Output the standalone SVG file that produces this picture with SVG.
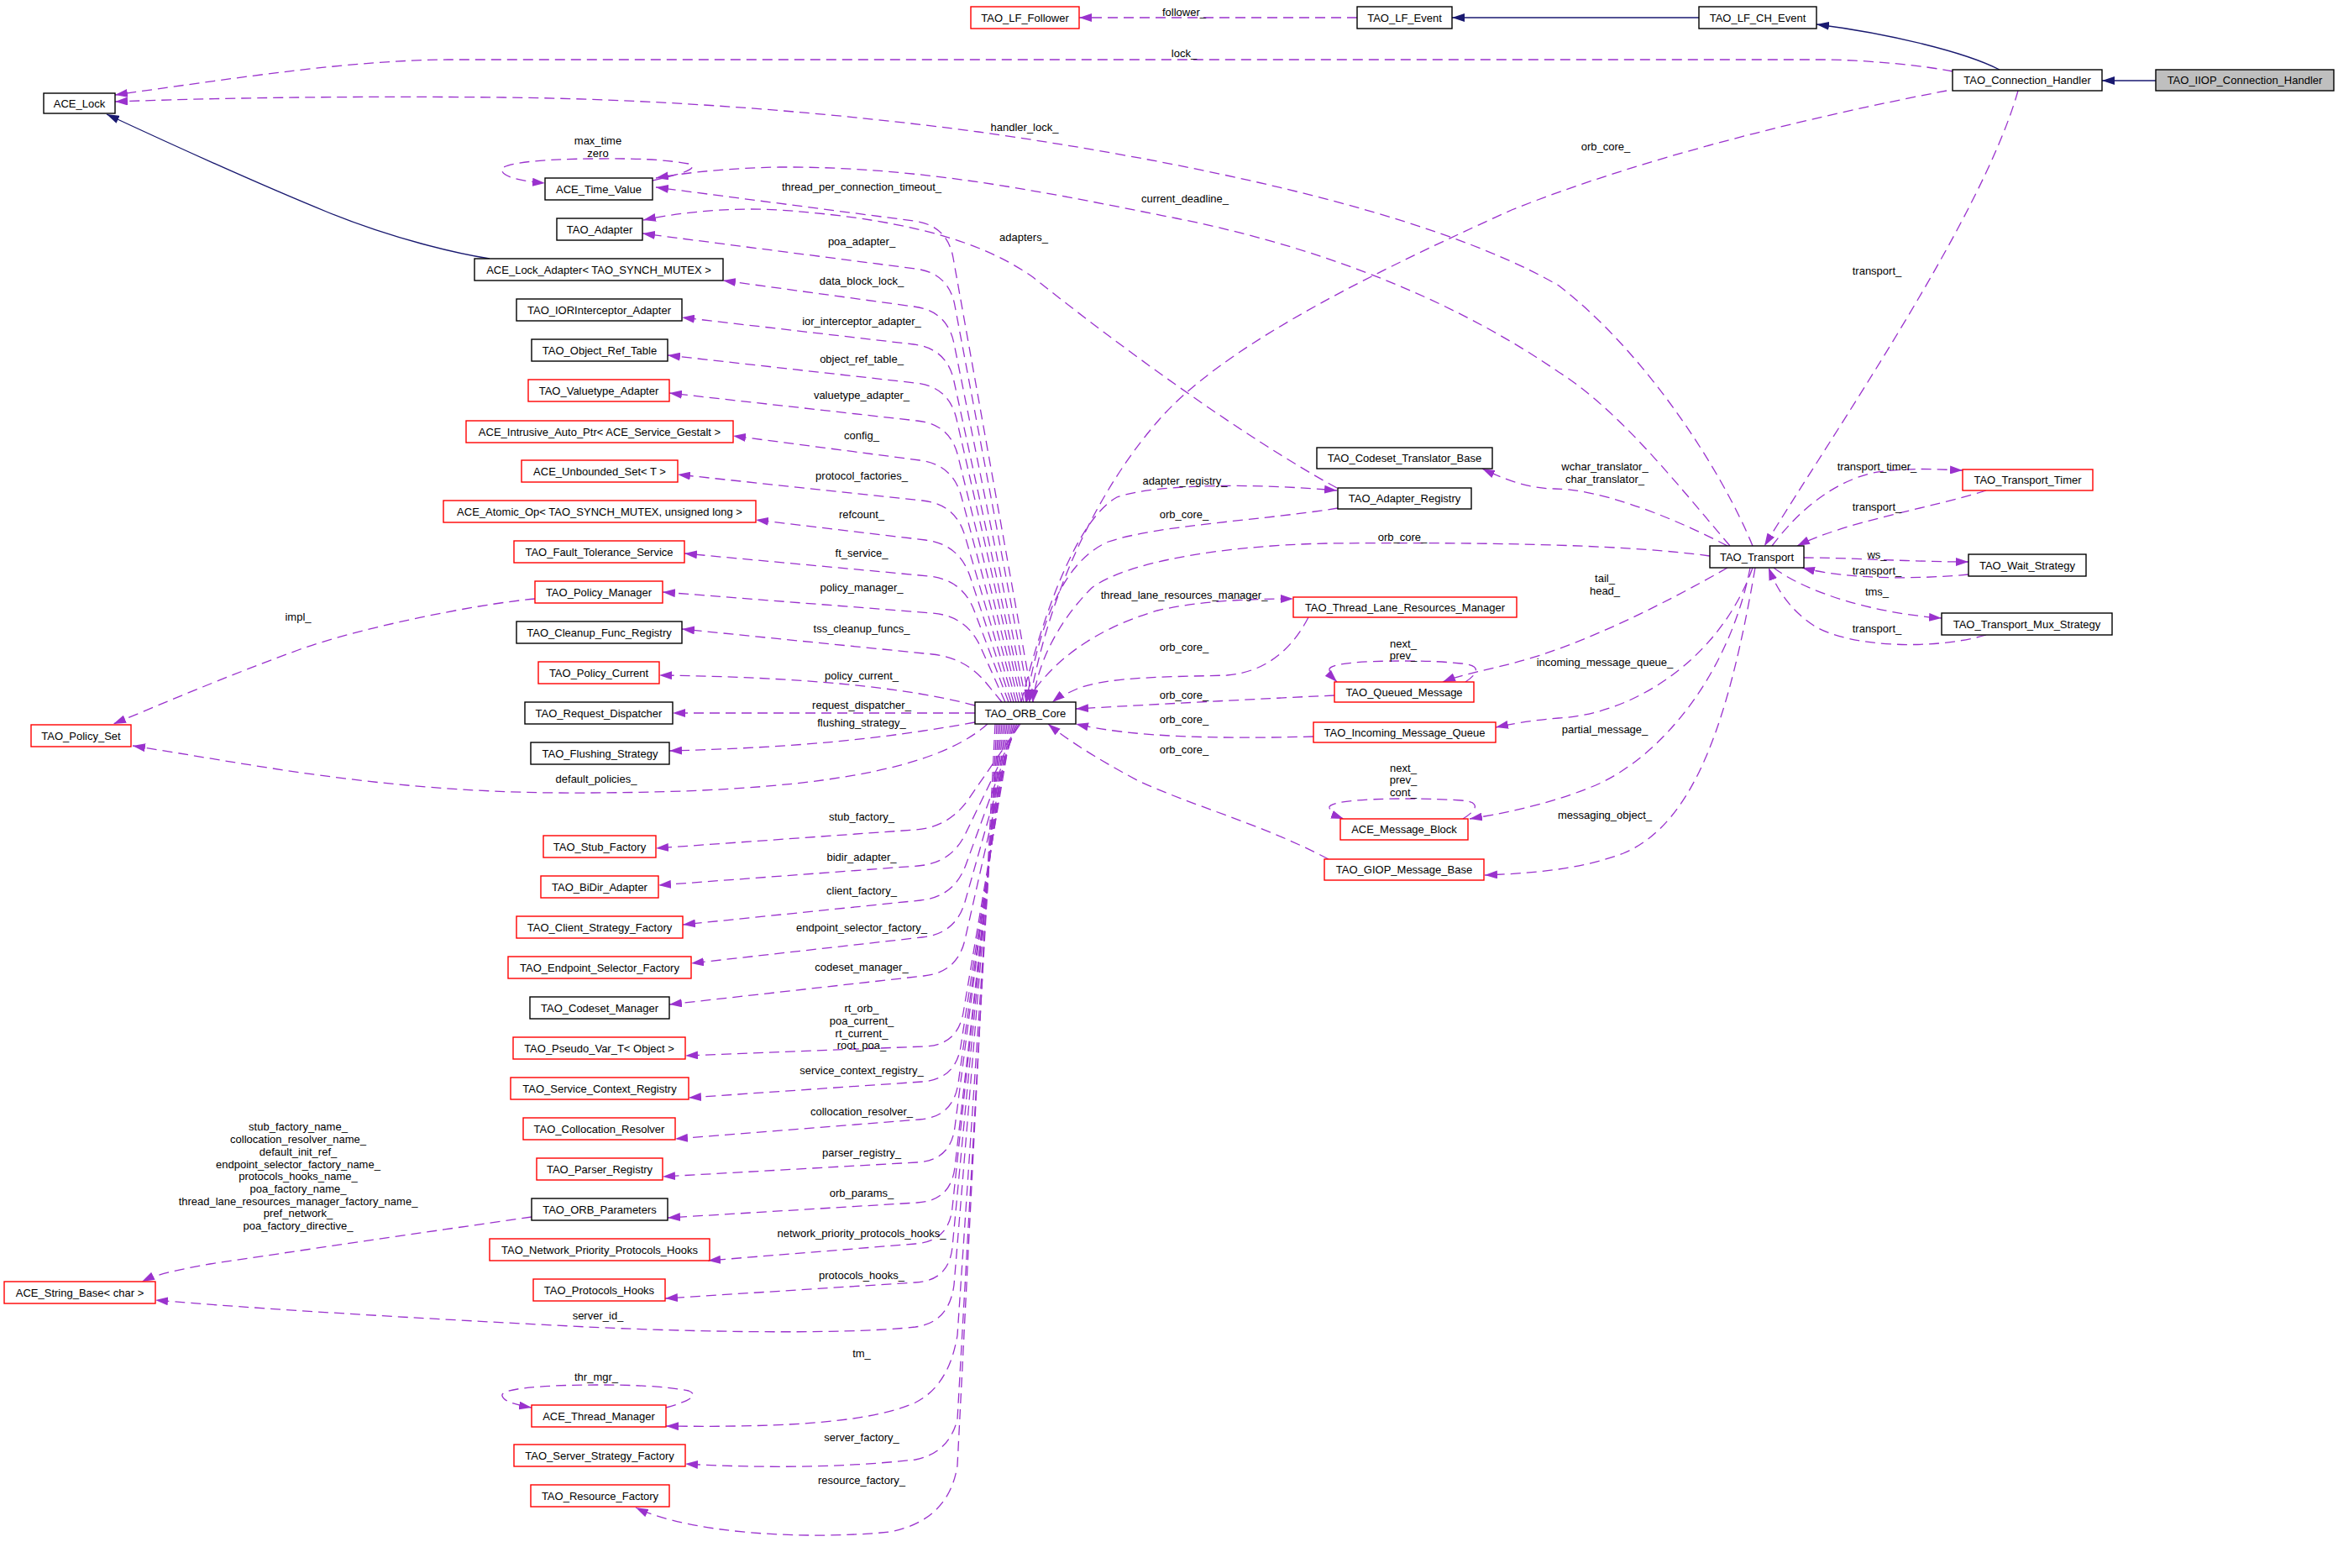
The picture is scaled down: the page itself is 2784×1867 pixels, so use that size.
<svg xmlns="http://www.w3.org/2000/svg" width="2784" height="1867" viewBox="0 0 2784 1867">
<style>
.n rect{fill:#fff;stroke:#000;stroke-width:1.4}
.n.r rect{stroke:#f00}
.n.g rect{fill:#bfbfbf}
text{font-family:"Liberation Sans",Arial,sans-serif;font-size:13px;fill:#000;text-anchor:middle}
.e{fill:none;stroke:#9a32cd;stroke-width:1.3;stroke-dasharray:12,7;marker-end:url(#ap)}
.i{fill:none;stroke:#191970;stroke-width:1.3;marker-end:url(#ab)}
</style>
<defs>
<marker id="ap" viewBox="0 0 15 10" refX="15" refY="5" markerWidth="15" markerHeight="10" orient="auto" markerUnits="userSpaceOnUse"><path d="M0,0 L15,5 L0,10 z" fill="#9a32cd"/></marker>
<marker id="ab" viewBox="0 0 15 10" refX="15" refY="5" markerWidth="15" markerHeight="10" orient="auto" markerUnits="userSpaceOnUse"><path d="M0,0 L15,5 L0,10 z" fill="#191970"/></marker>
</defs>
<rect width="2784" height="1867" fill="#fff"/>
<g id="edges">
<path class="i" d="M2567,96 L2503,96"/>
<path class="i" d="M2381,83 C2340,62 2250,40 2163,29"/>
<path class="i" d="M2023,21 L1729,21"/>
<path class="i" d="M583,308 C545,302 470,285 391,253 C320,224 200,170 127,136"/>
<path class="e" d="M1616,21 L1285,21"/>
<path class="e" d="M2325,85 C2290,78 2230,72 2176,71 L533,71 C420,72 300,90 137,113"/>
<path class="e" d="M2087,650 C2050,560 1960,420 1856,340 C1700,250 1400,190 1165,157 C1000,135 800,118 600,116 C400,114 250,117 137,121"/>
<path class="e" d="M2060,650 C2000,580 1930,490 1856,443 C1750,370 1600,300 1401,260 C1250,230 1100,198 928,199 C870,200 820,205 781,212"/>
<path class="e" d="M2318,108 C2150,140 1950,190 1800,250 C1600,340 1450,420 1380,500 C1310,580 1250,700 1226,836"/>
<path class="e" d="M2403,108 C2360,260 2180,520 2101,650"/>
<path class="e" d="M1592,581 C1480,520 1330,410 1230,330 C1180,295 1100,262 928,250 C860,246 800,255 766,262"/>
<path class="e" d="M1593,605 C1500,620 1380,625 1320,645 C1260,670 1235,760 1222,836"/>
<path class="e" d="M1216,836 C1240,740 1280,620 1330,592 C1380,575 1500,576 1592,584"/>
<path class="e" d="M2036,662 C1950,650 1800,645 1579,647 C1450,650 1340,670 1300,700 C1260,740 1235,790 1230,836"/>
<path class="e" d="M1222,836 C1250,790 1300,750 1378,727 C1430,715 1490,713 1540,713"/>
<path class="e" d="M1558,735 C1540,770 1510,800 1461,804 C1400,806 1320,805 1283,820 C1265,828 1258,832 1253,836"/>
<path class="e" d="M1589,828 C1500,832 1350,840 1281,844"/>
<path class="e" d="M1564,877 C1450,880 1350,878 1281,862"/>
<path class="e" d="M1582,1023 C1500,980 1420,960 1354,929 C1300,900 1270,880 1248,862"/>
<path class="e" d="M2057,650 C1980,610 1900,582 1851,582 C1820,582 1790,570 1765,558"/>
<path class="e" d="M2110,650 C2140,610 2180,575 2230,563 C2270,556 2310,559 2337,560"/>
<path class="e" d="M2365,584 C2300,605 2200,620 2140,650"/>
<path class="e" d="M2148,664 C2200,664 2280,669 2344,669"/>
<path class="e" d="M2344,684 C2280,690 2200,690 2146,676"/>
<path class="e" d="M2112,676 C2150,705 2230,730 2312,736"/>
<path class="e" d="M2365,756 C2300,775 2200,770 2160,745 C2130,725 2115,700 2106,676"/>
<path class="e" d="M2057,676 C1980,720 1880,770 1800,790 C1760,800 1735,805 1718,812"/>
<path class="e" d="M2087,676 C2050,780 1950,850 1856,855 C1820,858 1800,862 1781,866"/>
<path class="e" d="M2084,676 C2060,800 1980,900 1900,935 C1840,960 1780,970 1750,975"/>
<path class="e" d="M2090,676 C2060,850 2020,980 1933,1016 C1880,1036 1820,1040 1768,1042"/>
<path class="e" d="M777,215 C810,208 835,200 820,195 C780,188 740,189 712,189 C640,189 590,195 598,204 C602,212 625,216 649,218"/>
<path class="e" d="M1745,812 C1760,802 1765,792 1740,790 C1710,787 1690,787 1671,787 C1620,787 1580,790 1583,798 C1585,803 1588,808 1592,812"/>
<path class="e" d="M1742,975 C1758,965 1765,955 1740,953 C1710,951 1690,951 1671,951 C1620,951 1580,955 1583,962 C1586,968 1592,972 1600,975"/>
<path class="e" d="M793,1676 C815,1670 835,1662 820,1656 C790,1650 750,1649 710,1649 C650,1649 595,1653 598,1662 C600,1669 615,1673 633,1676"/>
<path class="e" d="M637,713 C560,720 420,750 355,774 C270,805 200,835 135,862"/>
<path class="e" d="M633,1449 C500,1468 350,1490 250,1505 C210,1512 185,1518 169,1526"/>
<path class="e" d="M1230,836 L1135,307 Q1128,268 1088,263 L781,223"/>
<path class="e" d="M1226,836 L1137,364 Q1130,325 1090,320 L765,278"/>
<path class="e" d="M1222,836 L1136,409 Q1128,370 1088,365 L861,334"/>
<path class="e" d="M1219,836 L1136,454 Q1128,415 1088,410 L812,378"/>
<path class="e" d="M1216,836 L1139,499 Q1130,460 1090,456 L795,423"/>
<path class="e" d="M1213,836 L1141,544 Q1132,505 1092,501 L797,468"/>
<path class="e" d="M1210,836 L1145,592 Q1135,553 1095,548 L873,519"/>
<path class="e" d="M1207,836 L1149,638 Q1138,600 1098,596 L807,565"/>
<path class="e" d="M1204,836 L1155,686 Q1142,648 1102,643 L900,619"/>
<path class="e" d="M1201,836 L1160,727 Q1146,690 1106,686 L815,659"/>
<path class="e" d="M1197,836 L1167,769 Q1150,733 1110,730 L789,705"/>
<path class="e" d="M1193,836 L1175,814 Q1150,783 1110,779 L812,749"/>
<path class="e" d="M1161,840 C1080,818 950,806 785,804"/>
<path class="e" d="M1161,849 L801,849"/>
<path class="e" d="M1161,860 C1050,880 950,890 797,894"/>
<path class="e" d="M1176,862 C1100,930 900,945 663,944 C450,942 300,910 158,888"/>
<path class="e" d="M1215,862 L1153,952 Q1130,985 1090,988 L781,1010"/>
<path class="e" d="M1213,862 L1150,992 Q1133,1028 1093,1031 L784,1054"/>
<path class="e" d="M1211,862 L1150,1030 Q1136,1068 1096,1072 L813,1101"/>
<path class="e" d="M1209,862 L1149,1074 Q1138,1112 1098,1116 L823,1147"/>
<path class="e" d="M1207,862 L1149,1119 Q1140,1158 1100,1162 L797,1196"/>
<path class="e" d="M1205,862 L1147,1206 Q1140,1245 1100,1246 L816,1257"/>
<path class="e" d="M1203,862 L1144,1246 Q1138,1285 1098,1288 L820,1307"/>
<path class="e" d="M1201,862 L1141,1290 Q1135,1330 1095,1333 L804,1356"/>
<path class="e" d="M1199,862 L1137,1342 Q1132,1382 1092,1384 L789,1401"/>
<path class="e" d="M1197,862 L1137,1390 Q1132,1430 1092,1432 L795,1450"/>
<path class="e" d="M1195,862 L1134,1438 Q1130,1478 1090,1481 L843,1501"/>
<path class="e" d="M1193,862 L1134,1485 Q1130,1525 1090,1527 L792,1546"/>
<path class="e" d="M1191,862 L1136,1530 Q1130,1575 1090,1580 C1000,1590 800,1585 700,1580 C500,1570 300,1558 185,1548"/>
<path class="e" d="M1189,862 L1140,1590 Q1130,1650 1090,1670 C1040,1692 950,1700 793,1698"/>
<path class="e" d="M1187,862 L1140,1690 Q1130,1730 1090,1738 C1000,1748 900,1748 816,1743"/>
<path class="e" d="M1185,862 L1140,1745 Q1130,1810 1060,1824 C960,1834 820,1826 757,1795"/>
</g>
<g id="labels">
<text x="1410" y="18.5">follower_</text>
<text x="1410" y="67.5">lock_</text>
<text x="1220" y="155.5">handler_lock_</text>
<text x="1912" y="178.5">orb_core_</text>
<text x="712" y="171.5">max_time</text>
<text x="712" y="186.5">zero</text>
<text x="1026" y="226.5">thread_per_connection_timeout_</text>
<text x="1411" y="240.5">current_deadline_</text>
<text x="1219" y="286.5">adapters_</text>
<text x="1026" y="291.5">poa_adapter_</text>
<text x="2235" y="326.5">transport_</text>
<text x="1026" y="338.5">data_block_lock_</text>
<text x="1026" y="386.5">ior_interceptor_adapter_</text>
<text x="1026" y="431.5">object_ref_table_</text>
<text x="1026" y="474.5">valuetype_adapter_</text>
<text x="1026" y="522.5">config_</text>
<text x="1026" y="570.5">protocol_factories_</text>
<text x="1026" y="616.5">refcount_</text>
<text x="1026" y="662.5">ft_service_</text>
<text x="1026" y="703.5">policy_manager_</text>
<text x="355" y="738.5">impl_</text>
<text x="1026" y="752.5">tss_cleanup_funcs_</text>
<text x="1026" y="808.5">policy_current_</text>
<text x="1026" y="843.5">request_dispatcher_</text>
<text x="1026" y="864.5">flushing_strategy_</text>
<text x="710" y="931.5">default_policies_</text>
<text x="1026" y="976.5">stub_factory_</text>
<text x="1026" y="1024.5">bidir_adapter_</text>
<text x="1026" y="1064.5">client_factory_</text>
<text x="1026" y="1108.5">endpoint_selector_factory_</text>
<text x="1026" y="1155.5">codeset_manager_</text>
<text x="1026" y="1204.5">rt_orb_</text>
<text x="1026" y="1219.5">poa_current_</text>
<text x="1026" y="1234.5">rt_current_</text>
<text x="1026" y="1248.5">root_poa_</text>
<text x="1026" y="1278.5">service_context_registry_</text>
<text x="1026" y="1327.5">collocation_resolver_</text>
<text x="1026" y="1376.5">parser_registry_</text>
<text x="1026" y="1424.5">orb_params_</text>
<text x="1026" y="1472.5">network_priority_protocols_hooks_</text>
<text x="1026" y="1522.5">protocols_hooks_</text>
<text x="712" y="1570.5">server_id_</text>
<text x="1026" y="1615.5">tm_</text>
<text x="710" y="1643.5">thr_mgr_</text>
<text x="1026" y="1715.5">server_factory_</text>
<text x="1026" y="1766.5">resource_factory_</text>
<text x="355" y="1345.5">stub_factory_name_</text>
<text x="355" y="1360.5">collocation_resolver_name_</text>
<text x="355" y="1375.5">default_init_ref_</text>
<text x="355" y="1390.5">endpoint_selector_factory_name_</text>
<text x="355" y="1404.5">protocols_hooks_name_</text>
<text x="355" y="1419.5">poa_factory_name_</text>
<text x="355" y="1434.5">thread_lane_resources_manager_factory_name_</text>
<text x="355" y="1448.5">pref_network_</text>
<text x="355" y="1463.5">poa_factory_directive_</text>
<text x="1411" y="576.5">adapter_registry_</text>
<text x="1410" y="616.5">orb_core_</text>
<text x="1670" y="643.5">orb_core_</text>
<text x="1410" y="712.5">thread_lane_resources_manager_</text>
<text x="1410" y="774.5">orb_core_</text>
<text x="1671" y="770.5">next_</text>
<text x="1671" y="784.5">prev_</text>
<text x="1410" y="831.5">orb_core_</text>
<text x="1410" y="860.5">orb_core_</text>
<text x="1410" y="896.5">orb_core_</text>
<text x="1671" y="918.5">next_</text>
<text x="1671" y="932.5">prev_</text>
<text x="1671" y="947.5">cont_</text>
<text x="1911" y="559.5">wchar_translator_</text>
<text x="1911" y="574.5">char_translator_</text>
<text x="2235" y="559.5">transport_timer_</text>
<text x="2235" y="607.5">transport_</text>
<text x="2235" y="664.5">ws_</text>
<text x="2235" y="683.5">transport_</text>
<text x="2235" y="708.5">tms_</text>
<text x="2235" y="752.5">transport_</text>
<text x="1911" y="692.5">tail_</text>
<text x="1911" y="707.5">head_</text>
<text x="1911" y="792.5">incoming_message_queue_</text>
<text x="1911" y="872.5">partial_message_</text>
<text x="1911" y="974.5">messaging_object_</text>
</g>
<g id="n1" class="n g"><rect x="2567" y="83" width="212" height="25"/><text x="2673" y="100">TAO_IIOP_Connection_Handler</text></g>
<g id="n2" class="n"><rect x="2325" y="83" width="178" height="25"/><text x="2414" y="100">TAO_Connection_Handler</text></g>
<g id="n3" class="n"><rect x="2023" y="8" width="140" height="26"/><text x="2093" y="25.5">TAO_LF_CH_Event</text></g>
<g id="n4" class="n"><rect x="1616" y="8" width="113" height="26"/><text x="1672.5" y="25.5">TAO_LF_Event</text></g>
<g id="n5" class="n r"><rect x="1156" y="8" width="129" height="26"/><text x="1220.5" y="25.5">TAO_LF_Follower</text></g>
<g id="n6" class="n"><rect x="52" y="111" width="85" height="24"/><text x="94.5" y="127.5">ACE_Lock</text></g>
<g id="n7" class="n"><rect x="649" y="212" width="128" height="26"/><text x="713" y="229.5">ACE_Time_Value</text></g>
<g id="n8" class="n"><rect x="663" y="260" width="102" height="26"/><text x="714" y="277.5">TAO_Adapter</text></g>
<g id="n9" class="n"><rect x="565" y="308" width="296" height="26"/><text x="713" y="325.5">ACE_Lock_Adapter&lt; TAO_SYNCH_MUTEX &gt;</text></g>
<g id="n10" class="n"><rect x="615" y="356" width="197" height="26"/><text x="713.5" y="373.5">TAO_IORInterceptor_Adapter</text></g>
<g id="n11" class="n"><rect x="633" y="404" width="162" height="26"/><text x="714" y="421.5">TAO_Object_Ref_Table</text></g>
<g id="n12" class="n r"><rect x="629" y="452" width="168" height="26"/><text x="713" y="469.5">TAO_Valuetype_Adapter</text></g>
<g id="n13" class="n r"><rect x="555" y="501" width="318" height="26"/><text x="714" y="518.5">ACE_Intrusive_Auto_Ptr&lt; ACE_Service_Gestalt &gt;</text></g>
<g id="n14" class="n r"><rect x="621" y="548" width="186" height="26"/><text x="714" y="565.5">ACE_Unbounded_Set&lt; T &gt;</text></g>
<g id="n15" class="n r"><rect x="528" y="596" width="372" height="26"/><text x="714" y="613.5">ACE_Atomic_Op&lt; TAO_SYNCH_MUTEX, unsigned long &gt;</text></g>
<g id="n16" class="n r"><rect x="612" y="644" width="203" height="26"/><text x="713.5" y="661.5">TAO_Fault_Tolerance_Service</text></g>
<g id="n17" class="n r"><rect x="637" y="692" width="152" height="26"/><text x="713" y="709.5">TAO_Policy_Manager</text></g>
<g id="n18" class="n"><rect x="615" y="740" width="197" height="26"/><text x="713.5" y="757.5">TAO_Cleanup_Func_Registry</text></g>
<g id="n19" class="n r"><rect x="641" y="788" width="144" height="26"/><text x="713" y="805.5">TAO_Policy_Current</text></g>
<g id="n20" class="n"><rect x="625" y="836" width="176" height="26"/><text x="713" y="853.5">TAO_Request_Dispatcher</text></g>
<g id="n21" class="n"><rect x="632" y="884" width="165" height="26"/><text x="714.5" y="901.5">TAO_Flushing_Strategy</text></g>
<g id="n22" class="n r"><rect x="37" y="863" width="119" height="26"/><text x="96.5" y="880.5">TAO_Policy_Set</text></g>
<g id="n23" class="n"><rect x="1161" y="836" width="120" height="26"/><text x="1221" y="853.5">TAO_ORB_Core</text></g>
<g id="n24" class="n r"><rect x="647" y="995" width="134" height="26"/><text x="714" y="1012.5">TAO_Stub_Factory</text></g>
<g id="n25" class="n r"><rect x="644" y="1043" width="140" height="26"/><text x="714" y="1060.5">TAO_BiDir_Adapter</text></g>
<g id="n26" class="n r"><rect x="615" y="1091" width="198" height="26"/><text x="714" y="1108.5">TAO_Client_Strategy_Factory</text></g>
<g id="n27" class="n r"><rect x="605" y="1139" width="218" height="26"/><text x="714" y="1156.5">TAO_Endpoint_Selector_Factory</text></g>
<g id="n28" class="n"><rect x="631" y="1187" width="166" height="26"/><text x="714" y="1204.5">TAO_Codeset_Manager</text></g>
<g id="n29" class="n r"><rect x="611" y="1235" width="205" height="26"/><text x="713.5" y="1252.5">TAO_Pseudo_Var_T&lt; Object &gt;</text></g>
<g id="n30" class="n r"><rect x="608" y="1283" width="212" height="26"/><text x="714" y="1300.5">TAO_Service_Context_Registry</text></g>
<g id="n31" class="n r"><rect x="623" y="1331" width="181" height="26"/><text x="713.5" y="1348.5">TAO_Collocation_Resolver</text></g>
<g id="n32" class="n r"><rect x="639" y="1379" width="150" height="26"/><text x="714" y="1396.5">TAO_Parser_Registry</text></g>
<g id="n33" class="n"><rect x="633" y="1427" width="162" height="26"/><text x="714" y="1444.5">TAO_ORB_Parameters</text></g>
<g id="n34" class="n r"><rect x="583" y="1475" width="262" height="26"/><text x="714" y="1492.5">TAO_Network_Priority_Protocols_Hooks</text></g>
<g id="n35" class="n r"><rect x="635" y="1523" width="157" height="26"/><text x="713.5" y="1540.5">TAO_Protocols_Hooks</text></g>
<g id="n36" class="n r"><rect x="5" y="1526" width="180" height="26"/><text x="95" y="1543.5">ACE_String_Base&lt; char &gt;</text></g>
<g id="n37" class="n r"><rect x="633" y="1673" width="160" height="26"/><text x="713" y="1690.5">ACE_Thread_Manager</text></g>
<g id="n38" class="n r"><rect x="612" y="1720" width="204" height="26"/><text x="714" y="1737.5">TAO_Server_Strategy_Factory</text></g>
<g id="n39" class="n r"><rect x="632" y="1768" width="165" height="26"/><text x="714.5" y="1785.5">TAO_Resource_Factory</text></g>
<g id="n40" class="n"><rect x="1568" y="533" width="209" height="25"/><text x="1672.5" y="550">TAO_Codeset_Translator_Base</text></g>
<g id="n41" class="n"><rect x="1593" y="581" width="159" height="25"/><text x="1672.5" y="598">TAO_Adapter_Registry</text></g>
<g id="n42" class="n r"><rect x="1540" y="711" width="266" height="24"/><text x="1673" y="727.5">TAO_Thread_Lane_Resources_Manager</text></g>
<g id="n43" class="n r"><rect x="1589" y="812" width="166" height="24"/><text x="1672" y="828.5">TAO_Queued_Message</text></g>
<g id="n44" class="n r"><rect x="1564" y="860" width="217" height="24"/><text x="1672.5" y="876.5">TAO_Incoming_Message_Queue</text></g>
<g id="n45" class="n r"><rect x="1596" y="975" width="152" height="25"/><text x="1672" y="992">ACE_Message_Block</text></g>
<g id="n46" class="n r"><rect x="1577" y="1023" width="190" height="25"/><text x="1672" y="1040">TAO_GIOP_Message_Base</text></g>
<g id="n47" class="n"><rect x="2036" y="650" width="112" height="26"/><text x="2092" y="667.5">TAO_Transport</text></g>
<g id="n48" class="n r"><rect x="2337" y="559" width="155" height="25"/><text x="2414.5" y="576">TAO_Transport_Timer</text></g>
<g id="n49" class="n"><rect x="2344" y="660" width="140" height="26"/><text x="2414" y="677.5">TAO_Wait_Strategy</text></g>
<g id="n50" class="n"><rect x="2312" y="730" width="203" height="26"/><text x="2413.5" y="747.5">TAO_Transport_Mux_Strategy</text></g>
</svg>
